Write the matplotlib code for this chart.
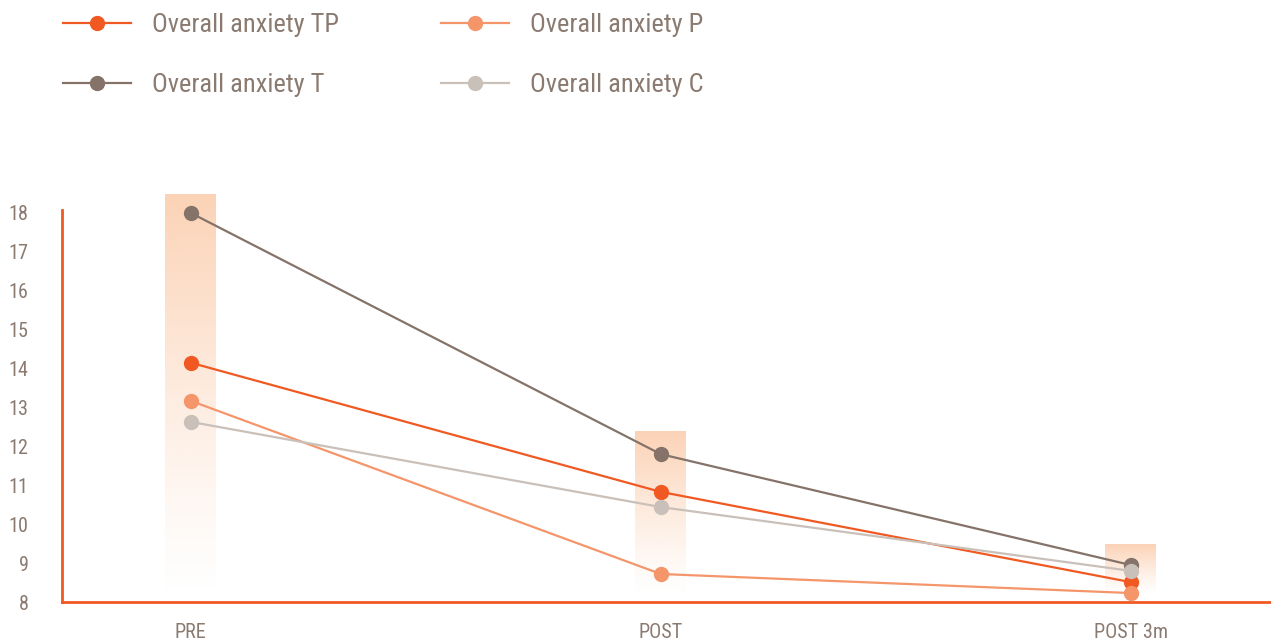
import numpy as np
import matplotlib
matplotlib.use("Agg")
import matplotlib.pyplot as plt
from matplotlib.colors import to_rgb
from matplotlib.lines import Line2D

plt.rcParams["font.family"] = ["Roboto Condensed", "Liberation Sans Narrow",
                               "Roboto", "DejaVu Sans"]

TEXT = "#8a7a70"
AXIS = "#f05a22"
BAND = "#fbc9a6"

categories = ["PRE", "POST", "POST 3m"]
tp = [14.15, 10.83, 8.51]
p = [13.17, 8.72, 8.23]
t = [18.0, 11.80, 8.95]
c = [12.63, 10.44, 8.80]
band_top = [18.5, 12.37, 9.47]

series = [
    ("Overall anxiety TP", tp, "#f05a22"),
    ("Overall anxiety T", t, "#857369"),
    ("Overall anxiety P", p, "#f4956a"),
    ("Overall anxiety C", c, "#c9c0ba"),
]

fig = plt.figure(figsize=(12.71, 6.44), dpi=100)
ax = fig.add_axes([62 / 1271, 42 / 644, 1208 / 1271, 408.5 / 644])

x = np.arange(len(categories))

# fading bands behind each group
rgb = to_rgb(BAND)
grad = np.zeros((256, 1, 4))
grad[..., :3] = rgb
grad[:, 0, 3] = np.linspace(0.85, 0.0, 256) ** 1.2
for xi, top in zip(x, band_top):
    ax.imshow(grad, extent=(xi - 0.054, xi + 0.054, 8.2, top), aspect="auto",
              zorder=1, interpolation="bilinear")

for name, vals, col in series:
    ax.plot(x, vals, color=col, lw=1.6, marker="o", ms=10, zorder=3, label=name)

ax.set_xlim(-0.274, 2.296)
ax.set_ylim(8, 18.5)
ax.set_yticks(range(8, 19))
ax.set_xticks(x)
ax.set_xticklabels(categories)
ax.tick_params(length=0, labelsize=14.5, labelcolor=TEXT)
ax.tick_params(axis="y", pad=24)
ax.tick_params(axis="x", pad=15)

for s in ["top", "right"]:
    ax.spines[s].set_visible(False)
for s in ["left", "bottom"]:
    ax.spines[s].set_color(AXIS)
    ax.spines[s].set_linewidth(2)
ax.spines["left"].set_bounds(8, 18.08)

handles = {name: Line2D([], [], color=col, lw=1.6, marker="o", ms=10)
           for name, _, col in series}
for names, xpos in [(["Overall anxiety TP", "Overall anxiety T"], 55 / 1271),
                    (["Overall anxiety P", "Overall anxiety C"], 433 / 1271)]:
    leg = fig.legend([handles[n] for n in names], names, loc="upper left",
                     bbox_to_anchor=(xpos, 1.0 - 5 / 644), frameon=False, fontsize=19,
                     handlelength=2.58, handletextpad=0.8, labelspacing=1.36,
                     borderaxespad=0, borderpad=0.3)
    for txt in leg.get_texts():
        txt.set_color(TEXT)

fig.savefig("out.png", dpi=100)
